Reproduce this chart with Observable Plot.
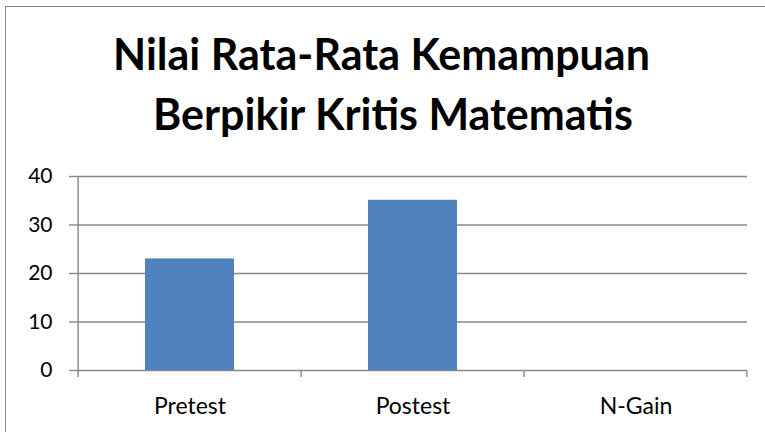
<!DOCTYPE html>
<html>
<head>
<meta charset="utf-8">
<script src="https://cdn.jsdelivr.net/npm/d3@7"></script>
<script src="https://cdn.jsdelivr.net/npm/@observablehq/plot@0.6"></script>
<style>
  body { margin: 0; background: #fff; }
  #wrap { position: relative; width: 765px; height: 432px; overflow: hidden; font-family: Lato, "Open Sans", sans-serif; }
  #border { position: absolute; left: 5px; top: 6px; right: -10px; bottom: -10px; border-left: 1.5px solid #888; border-top: 1.5px solid #888; }
  .title { position: absolute; left: 0; font-weight: bold; font-size: 43px; line-height: 1.2; text-align: center; color: #000; white-space: nowrap; }
  #chart { position: absolute; left: 0; top: 0; }
</style>
</head>
<body>
<div id="wrap">
  <div id="chart"></div>
  <div id="border"></div>
  <div class="title" style="top:28px; width:763px;">Nilai Rata-Rata Kemampuan</div>
  <div class="title" style="top:88px; width:786px;">Berpikir Kritis Matematis</div>
</div>
<script>
const categories = ["Pretest", "Postest", "N-Gain"];
const values = [23, 35.1, 0];
const yTicks = [0, 10, 20, 30, 40];

const data = categories.map((c, i) => ({cat: c, value: values[i]}));

const chart = Plot.plot({
  width: 765,
  height: 432,
  marginTop: 176,
  marginBottom: 62,
  marginLeft: 78,
  marginRight: 18,
  style: {fontFamily: "Lato, 'Open Sans', sans-serif", background: "transparent"},
  x: {domain: categories, paddingInner: 0.6, paddingOuter: 0.3},
  y: {domain: [0, 40], ticks: yTicks},
  marks: [
    Plot.gridY(yTicks, {stroke: "#888", strokeOpacity: 1, strokeWidth: 1.4}),
    Plot.rectY(data, {x: "cat", y: "value", fill: "#4f81bd"}),
    Plot.axisY(yTicks, {tickSize: 9, tickPadding: 17, stroke: "#888", strokeWidth: 1.4, fontSize: 21, fill: "#000", label: null}),
    Plot.axisX({tickSize: 0, tickPadding: 27, fontSize: 23, fill: "#000", label: null})
  ]
});

document.getElementById("chart").appendChild(chart);

// axis lines and category boundary ticks using the plot's own scales
const xs = chart.scale("x");
const ys = chart.scale("y");
const svg = d3.select(chart);
const x0 = xs.apply(categories[0]) - xs.step * xs.paddingOuter;
const bounds = categories.map(c => xs.apply(c) - xs.step * xs.paddingOuter);
bounds.push(xs.apply(categories[categories.length - 1]) + xs.bandwidth + xs.step * xs.paddingOuter);
const yZero = ys.apply(0);
const yTop = ys.apply(40);
const g = svg.append("g").attr("stroke", "#888").attr("stroke-width", 1.4);
g.append("line").attr("x1", x0).attr("x2", x0).attr("y1", yTop).attr("y2", yZero + 7);
g.selectAll("line.b").data(bounds.slice(1)).join("line")
  .attr("x1", d => d).attr("x2", d => d).attr("y1", yZero).attr("y2", yZero + 7);
</script>
</body>
</html>
